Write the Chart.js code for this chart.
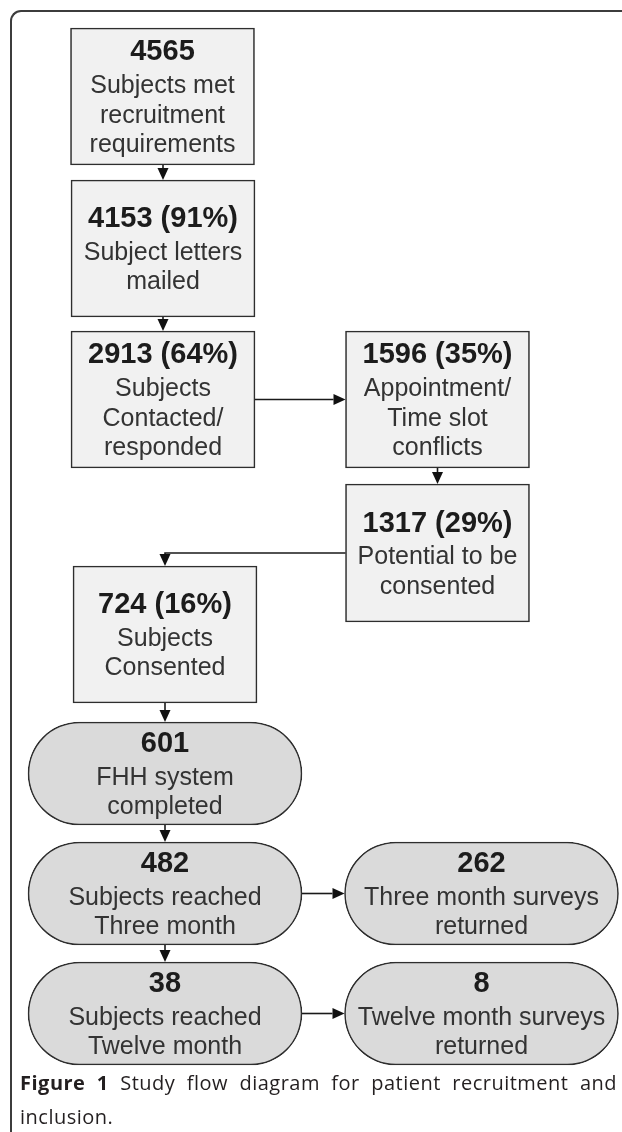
<!DOCTYPE html>
<html>
<head>
<meta charset="utf-8">
<script src="https://cdn.jsdelivr.net/npm/chart.js@4.4.1/dist/chart.umd.min.js"></script>
<style>
html,body{margin:0;padding:0;background:#fff;}
#wrap{position:relative;width:622px;height:1132px;overflow:hidden;background:#fff;}
#c{position:absolute;left:0;top:0;}
#frame{position:absolute;left:10px;top:10px;width:700px;height:1300px;border-top:2px solid #3c3c3c;border-left:2px solid #3c3c3c;border-top-left-radius:11px;pointer-events:none;}
.cap{position:absolute;left:20px;width:597px;font-family:"Open Sans",sans-serif;font-size:20px;line-height:34px;color:#231f20;letter-spacing:0.5px;}
#cap1{top:1066px;text-align:justify;text-align-last:justify;white-space:nowrap;}
#cap2{top:1100px;}
.cap b{font-weight:700;}
</style>
</head>
<body>
<div id="wrap">
  <canvas id="c" width="622" height="1132"></canvas>
  <div id="frame"></div>
  <div class="cap" id="cap1"><b>Figure 1</b> Study flow diagram for patient recruitment and</div>
  <div class="cap" id="cap2">inclusion.</div>
</div>
<script>
// ---- data ----
const counts = [4565, 4153, 2913, 1596, 1317, 724, 601, 482, 262, 38, 8];
const percents = [null, 91, 64, 35, 29, 16, null, null, null, null, null];
const descriptions = [
  ["Subjects met", "recruitment", "requirements"],
  ["Subject letters", "mailed"],
  ["Subjects", "Contacted/", "responded"],
  ["Appointment/", "Time slot", "conflicts"],
  ["Potential to be", "consented"],
  ["Subjects", "Consented"],
  ["FHH system", "completed"],
  ["Subjects reached", "Three month"],
  ["Three month surveys", "returned"],
  ["Subjects reached", "Twelve month"],
  ["Twelve month surveys", "returned"]
];
const links = [[0,1],[1,2],[2,3],[3,4],[4,5],[5,6],[6,7],[7,8],[7,9],[9,10]];

// ---- layout (scale units) ----
const nodeCx     = [162.5, 163, 163, 437.5, 437.5, 165, 165, 165, 481.5, 165, 481.5];
const nodeTop    = [28, 180, 331, 331, 484, 566, 722, 842, 842, 962, 962];
const nodeBottom = [165, 317, 468, 468, 622, 703, 825, 945, 945, 1065, 1065];
const nodeShape  = ['box','box','box','box','box','box','pill','pill','pill','pill','pill'];
const linkRoute  = ['down','down','right','down','elbow','down','down','right','down','right'];

const boxIdx = [], pillIdx = [];
nodeShape.forEach((s, i) => (s === 'box' ? boxIdx : pillIdx).push(i));
const toBar = i => ({ x: nodeCx[i], y: [nodeTop[i], nodeBottom[i]] });

function nodeRect(chart, i) {
  const ds = nodeShape[i] === 'box' ? 0 : 1;
  const idx = (ds === 0 ? boxIdx : pillIdx).indexOf(i);
  const el = chart.getDatasetMeta(ds).data[idx];
  const p = el.getProps(['x', 'y', 'base', 'width'], true);
  const top = Math.min(p.y, p.base), bottom = Math.max(p.y, p.base);
  return { cx: p.x, cy: (top + bottom) / 2, top, bottom, left: p.x - p.width / 2, right: p.x + p.width / 2 };
}

function drawArrow(ctx, pts) {
  const hl = 12, hw = 5.5;
  const n = pts.length;
  const [tx, ty] = pts[n - 1];
  const [px, py] = pts[n - 2];
  const dx = tx - px, dy = ty - py;
  const len = Math.hypot(dx, dy) || 1;
  const ux = dx / len, uy = dy / len;
  const bx = tx - ux * hl, by = ty - uy * hl;
  ctx.save();
  ctx.strokeStyle = '#1a1a1a';
  ctx.fillStyle = '#111';
  ctx.lineWidth = 1.6;
  ctx.beginPath();
  ctx.moveTo(pts[0][0], pts[0][1]);
  for (let k = 1; k < n - 1; k++) ctx.lineTo(pts[k][0], pts[k][1]);
  ctx.lineTo(bx, by);
  ctx.stroke();
  ctx.beginPath();
  ctx.moveTo(tx, ty);
  ctx.lineTo(bx - uy * hw, by + ux * hw);
  ctx.lineTo(bx + uy * hw, by - ux * hw);
  ctx.closePath();
  ctx.fill();
  ctx.restore();
}

const flowPlugin = {
  id: 'flow',
  afterDatasetsDraw(chart) {
    const ctx = chart.ctx;
    links.forEach(([a, b], k) => {
      const s = nodeRect(chart, a), t = nodeRect(chart, b);
      const r = linkRoute[k];
      if (r === 'down') {
        drawArrow(ctx, [[t.cx, s.bottom], [t.cx, t.top]]);
      } else if (r === 'right') {
        drawArrow(ctx, [[s.right, s.cy], [t.left, s.cy]]);
      } else {
        drawArrow(ctx, [[s.left, s.cy], [t.cx, s.cy], [t.cx, t.top]]);
      }
    });
    ctx.save();
    ctx.textAlign = 'center';
    ctx.textBaseline = 'alphabetic';
    counts.forEach((c, i) => {
      const r = nodeRect(chart, i);
      const lines = descriptions[i];
      const total = 34 + 29.5 * (lines.length - 1);
      let y = r.cy - total / 2;
      const head = percents[i] == null ? String(c) : c + ' (' + percents[i] + '%)';
      ctx.font = '700 29px "Liberation Sans", Arial, sans-serif';
      ctx.fillStyle = '#1c1c1c';
      ctx.fillText(head, r.cx, y + 10.4);
      y += 34;
      ctx.font = '400 25px "Liberation Sans", Arial, sans-serif';
      ctx.fillStyle = '#333';
      lines.forEach((ln, j) => {
        ctx.fillText(ln, r.cx, y + 9 + j * 29.5);
      });
    });
    ctx.restore();
  }
};

new Chart(document.getElementById('c'), {
  type: 'bar',
  data: {
    datasets: [
      {
        label: 'steps',
        data: boxIdx.map(toBar),
        backgroundColor: '#f1f1f1',
        borderColor: '#2e2e2e',
        borderWidth: 1.6,
        borderSkipped: false,
        barThickness: 184,
        grouped: false
      },
      {
        label: 'follow-up',
        data: pillIdx.map(toBar),
        backgroundColor: '#dadada',
        borderColor: '#2e2e2e',
        borderWidth: 1.6,
        borderSkipped: false,
        borderRadius: 52,
        barThickness: 274,
        grouped: false
      }
    ]
  },
  options: {
    responsive: false,
    devicePixelRatio: 1,
    animation: false,
    layout: { padding: 0 },
    plugins: { legend: { display: false }, tooltip: { enabled: false } },
    scales: {
      x: { type: 'linear', min: 0, max: 622, display: false, offset: false },
      y: { type: 'linear', min: 0, max: 1132, reverse: true, display: false }
    }
  },
  plugins: [flowPlugin]
});
</script>
</body>
</html>
